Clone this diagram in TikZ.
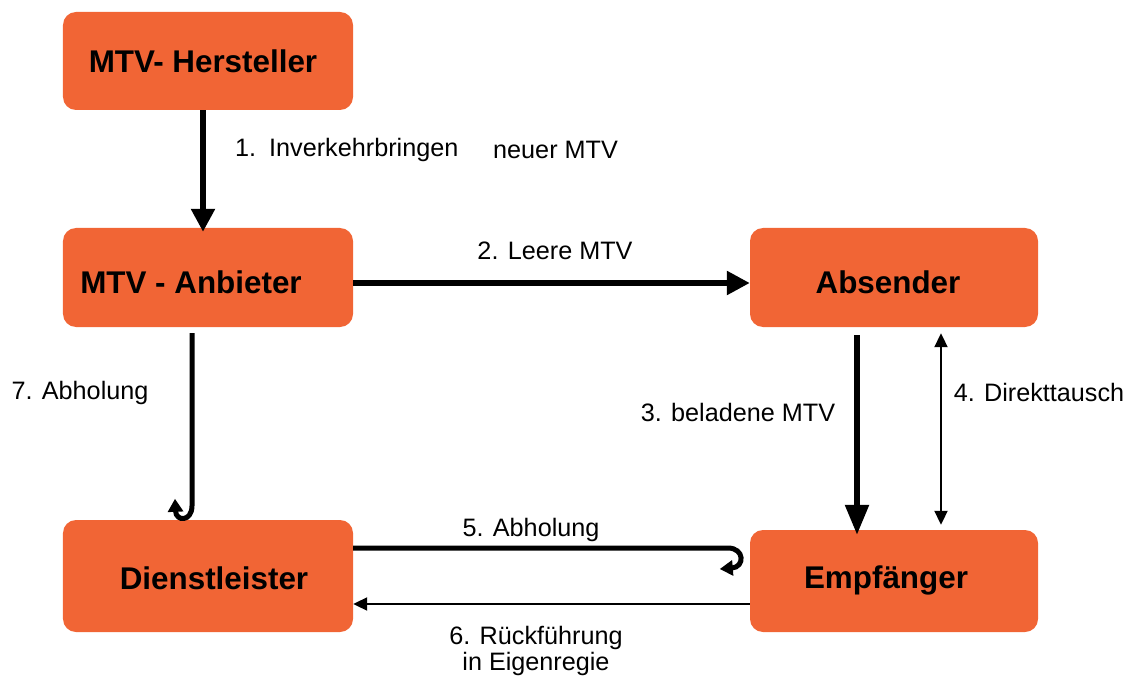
\documentclass[tikz,border=0pt]{standalone}
\usepackage{fontspec}
\setmainfont{Liberation Sans}
\usetikzlibrary{arrows.meta,calc}
\definecolor{boxorange}{HTML}{F16535}
\begin{document}
\begin{tikzpicture}[x=1bp,y=-1bp,
  box/.style={fill=boxorange, rounded corners=13bp, minimum width=290bp, inner sep=0},
  boxtext/.style={font=\fontsize{31.5}{36}\selectfont\bfseries, inner sep=0},
  lbl/.style={font=\fontsize{25.3}{29}\selectfont, inner sep=0},
  thickarrow/.style={line width=5.5bp, -{Triangle[length=23bp,width=23bp]}},
  hookarrow/.style={line width=5bp, -{Triangle[length=13bp,width=15bp]}},
  thinarrow/.style={line width=2bp, -{Triangle[length=14bp,width=13bp]}},
]
\useasboundingbox (0,0) rectangle (1130,680);

% boxes
\node[box, minimum height=98bp] (herst) at (208,61) {};
\node[box, minimum height=99bp] (anb) at (208,277.5) {};
\node[box, minimum width=288bp, minimum height=99bp] (abs) at (894,277.5) {};
\node[box, minimum height=112bp] (dienst) at (208,576) {};
\node[box, minimum width=288bp, minimum height=102bp] (empf) at (894,581) {};

\node[boxtext] (t1) at (203,61) {MTV- Hersteller};
\node[boxtext] (t2) at (191,282) {MTV - Anbieter};
\node[boxtext] (t3) at (888,282) {Absender};
\node[boxtext] (t4) at (214,578) {Dienstleister};
\node[boxtext] (t5) at (886,580) {Empfänger};

% 1
\draw[thickarrow] ($(herst.south)+(-5,0)$) -- ($(anb.north)+(-5,4)$);
\node[lbl, anchor=west] (l1a) at (235,150) {1.\hspace{13bp}Inverkehrbringen};
\node[lbl, anchor=west] (l1b) at (493,150) {neuer MTV};

% 2
\draw[thickarrow] ($(anb.east)+(0,5.5)$) -- ($(abs.west)+(0,5.5)$);
\node[lbl] (l2) at (555,251) {2. Leere MTV};

% 3
\draw[thickarrow, -{Triangle[length=30bp,width=23bp]}] ($(abs.south)+(-37,8)$) -- ($(empf.north)+(-37,5)$);
\node[lbl] (l3) at (738,412) {3. beladene MTV};

% 4
\draw[thinarrow, {Triangle[length=14bp,width=13bp]}-{Triangle[length=14bp,width=13bp]}] ($(abs.south)+(47,6)$) -- ($(empf.north)+(47,-5)$);
\node[lbl] (l4) at (1039,392) {4. Direkttausch};

% 5
\coordinate (h5) at ($(empf.west)+(-22,-33)$);
\draw[hookarrow] ($(dienst.east)+(0,-28)$) -- (h5)
  .. controls ($(h5)+(17,0)$) and ($(h5)+(17,19)$) .. ($(h5)+(-8,21)$);
\node[lbl] (l5) at (531,530) {5. Abholung};

% 6
\draw[thinarrow] ($(empf.west)+(0,23)$) -- ($(dienst.east)+(0,28)$);
\node[lbl, align=center] (l6) at (536,651) {6. Rückführung\\[-2bp]in Eigenregie};

% 7
\coordinate (h7) at ($(dienst.north)+(-16,-14)$);
\draw[hookarrow] ($(anb.south)+(-16,6)$) -- (h7)
  .. controls ($(h7)+(0,16)$) and ($(h7)+(-16,16)$) .. ($(h7)+(-17,-7)$);
\node[lbl] (l7) at (80,393) {7. Abholung};
\end{tikzpicture}
\end{document}
